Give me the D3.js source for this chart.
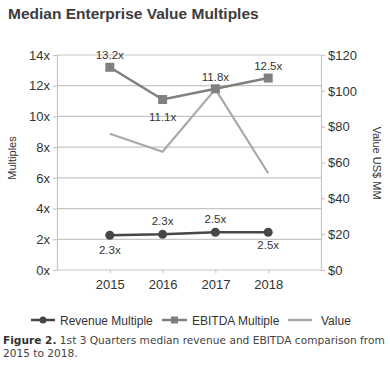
<!DOCTYPE html>
<html><head><meta charset="utf-8">
<script src="https://cdn.jsdelivr.net/npm/d3@7"></script>
<style>
body{margin:0;background:#fff;}
svg{display:block;font-family:"Liberation Sans",Arial,sans-serif;}
</style></head>
<body>
<svg id="c" width="390" height="380"></svg>
<script>
const years = ["2015","2016","2017","2018"];
const revenueMultiple = [2.26, 2.32, 2.46, 2.46];
const revenueLabels = ["2.3x","2.3x","2.5x","2.5x"];
const ebitdaMultiple = [13.2, 11.1, 11.8, 12.5];
const ebitdaLabels = ["13.2x","11.1x","11.8x","12.5x"];
const valueUSD = [76, 66, 101, 54];
const leftTicks = [0,2,4,6,8,10,12,14];
const rightTicks = [0,20,40,60,80,100,120];

const svg = d3.select("#c");
const L = 57, R = 321, T = 55, B = 270;

const x = d3.scalePoint().domain(years).range([L, R]).padding(1);
const yL = d3.scaleLinear().domain([0,14]).range([B, T]);
const yR = d3.scaleLinear().domain([0,120]).range([B, T]);

// title
svg.append("text").attr("x",8).attr("y",19).attr("font-size",15.5).attr("font-weight","bold")
  .attr("fill","#3c3c3c").text("Median Enterprise Value Multiples");

// grid
svg.append("g").selectAll("line").data(leftTicks).join("line")
  .attr("x1",L).attr("x2",R).attr("y1",d=>yL(d)).attr("y2",d=>yL(d))
  .attr("stroke","#c6c6c6").attr("stroke-width",1.2);

const gl = svg.append("g").attr("transform",`translate(${L},0)`)
  .call(d3.axisLeft(yL).tickValues(leftTicks).tickFormat(d=>d+"x").tickSize(4).tickPadding(3));
const gr = svg.append("g").attr("transform",`translate(${R},0)`)
  .call(d3.axisRight(yR).tickValues(rightTicks).tickFormat(d=>"$"+d).tickSize(4).tickPadding(3));
const gb = svg.append("g").attr("transform",`translate(0,${B})`)
  .call(d3.axisBottom(x).tickSize(3).tickPadding(7));
[gl,gr,gb].forEach(g=>{
  g.select(".domain").attr("stroke","#c6c6c6").attr("stroke-width",1.2);
  g.selectAll(".tick line").attr("stroke","#c6c6c6").attr("stroke-width",1.2);
  g.selectAll(".tick text").attr("fill","#333").attr("font-size",13)
    .attr("font-family","'Liberation Sans',Arial,sans-serif");
});
gb.select(".domain").remove();

svg.append("text").attr("transform","translate(16,158) rotate(-90)").attr("text-anchor","middle")
  .attr("font-size",11).attr("fill","#333").text("Multiples");
svg.append("text").attr("transform","translate(373,163) rotate(90)").attr("text-anchor","middle")
  .attr("font-size",11).attr("fill","#333").text("Value US$ MM");

const colRev = "#474747", colEb = "#808080", colVal = "#a9a9a9";

svg.append("path").datum(valueUSD)
  .attr("d", d3.line().x((d,i)=>x(years[i])).y(d=>yR(d)))
  .attr("fill","none").attr("stroke",colVal).attr("stroke-width",2.2);

svg.append("path").datum(ebitdaMultiple)
  .attr("d", d3.line().x((d,i)=>x(years[i])).y(d=>yL(d)))
  .attr("fill","none").attr("stroke",colEb).attr("stroke-width",2.5);
svg.append("g").selectAll("rect").data(ebitdaMultiple).join("rect")
  .attr("x",(d,i)=>x(years[i])-4.5).attr("y",d=>yL(d)-4.5).attr("width",9).attr("height",9)
  .attr("fill",colEb);

svg.append("path").datum(revenueMultiple)
  .attr("d", d3.line().x((d,i)=>x(years[i])).y(d=>yL(d)))
  .attr("fill","none").attr("stroke",colRev).attr("stroke-width",2.5);
svg.append("g").selectAll("circle").data(revenueMultiple).join("circle")
  .attr("cx",(d,i)=>x(years[i])).attr("cy",d=>yL(d)).attr("r",4.5).attr("fill",colRev);

const ebOff = [-12, 17, -12, -12];
svg.append("g").selectAll("text").data(ebitdaMultiple).join("text")
  .attr("x",(d,i)=>x(years[i])).attr("y",(d,i)=>yL(d)+ebOff[i]+4)
  .attr("text-anchor","middle").attr("font-size",11.5).attr("fill","#333")
  .text((d,i)=>ebitdaLabels[i]);
const revOff = [15, -13, -13, 13];
svg.append("g").selectAll("text").data(revenueMultiple).join("text")
  .attr("x",(d,i)=>x(years[i])).attr("y",(d,i)=>yL(d)+revOff[i]+4)
  .attr("text-anchor","middle").attr("font-size",11.5).attr("fill","#333")
  .text((d,i)=>revenueLabels[i]);

const legend = [
  {name:"Revenue Multiple", col:colRev, m:"circle", x1:31, x2:55, tx:60},
  {name:"EBITDA Multiple", col:colEb, m:"rect", x1:162, x2:187, tx:192},
  {name:"Value", col:colVal, m:"none", x1:288, x2:312, tx:321}
];
const ly = 320;
legend.forEach(l=>{
  svg.append("line").attr("x1",l.x1).attr("x2",l.x2).attr("y1",ly).attr("y2",ly)
    .attr("stroke",l.col).attr("stroke-width",2.5);
  const cx=(l.x1+l.x2)/2;
  if(l.m==="circle") svg.append("circle").attr("cx",cx).attr("cy",ly).attr("r",3.5).attr("fill",l.col);
  if(l.m==="rect") svg.append("rect").attr("x",cx-3.5).attr("y",ly-3.5).attr("width",7).attr("height",7).attr("fill",l.col);
  svg.append("text").attr("x",l.tx).attr("y",ly+4.5).attr("font-size",12).attr("fill","#333").text(l.name);
});

// caption, fitted to width
const capFont = "'DejaVu Sans',Verdana,sans-serif";
let fs = 11;
const cap = svg.append("text").attr("x",3).attr("y",344).attr("font-size",fs)
  .attr("font-family",capFont).attr("fill","#444");
cap.append("tspan").attr("font-weight","bold").attr("fill","#333").text("Figure 2.");
cap.append("tspan").text(" 1st 3 Quarters median revenue and EBITDA comparison from");
const w = cap.node().getComputedTextLength();
if (w > 382) fs = fs * 382 / w;
cap.attr("font-size", fs);
svg.append("text").attr("x",3).attr("y",357).attr("font-size",fs)
  .attr("font-family",capFont).attr("fill","#444").text("2015 to 2018.");
</script>
</body></html>
